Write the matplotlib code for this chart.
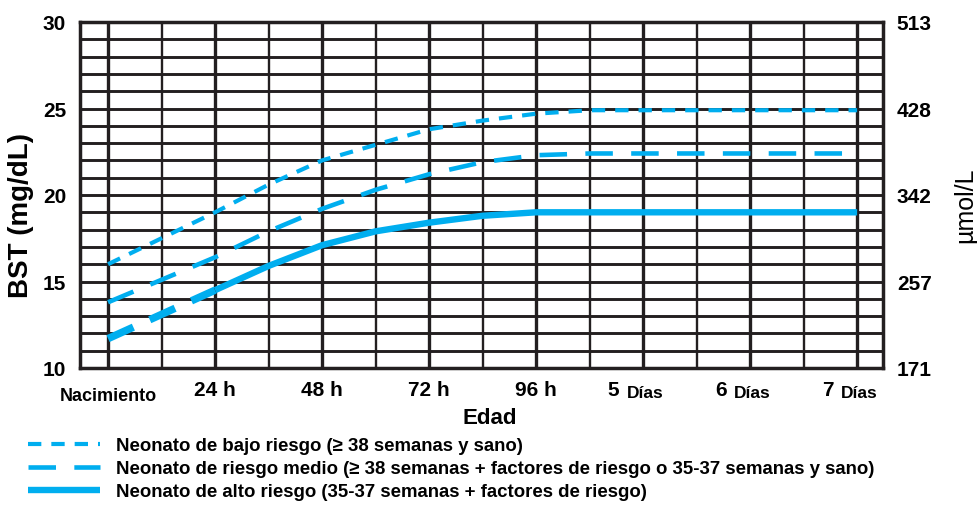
import numpy as np
import matplotlib.pyplot as plt
import matplotlib.transforms as mtransforms

# Datos ---------------------------------------------------------------------
horas = [0, 12, 24, 36, 48, 60, 72, 84, 96, 108, 120, 132, 144, 156, 168]
bajo_riesgo = [16.0, 17.5, 19.0, 20.6, 22.0, 22.9, 23.8, 24.3, 24.7, 24.9, 24.9, 24.9, 24.9, 24.9, 24.9]
riesgo_medio = [13.8, 15.1, 16.4, 17.9, 19.2, 20.3, 21.2, 21.9, 22.3, 22.4, 22.4, 22.4, 22.4, 22.4, 22.4]
alto_riesgo = [11.7, 13.1, 14.5, 15.9, 17.1, 17.9, 18.4, 18.8, 19.0, 19.0, 19.0, 19.0, 19.0, 19.0, 19.0]

hora_ticks = [0, 24, 48, 72, 96]
hora_labels = ['Nacimiento', '24 h', '48 h', '72 h', '96 h']
dia_ticks = [120, 144, 168]
dia_nums = ['5', '6', '7']

bst_ticks = [10, 15, 20, 25, 30]
umol_labels = ['171', '257', '342', '428', '513']

legend_labels = [
    'Neonato de bajo riesgo (≥ 38 semanas y sano)',
    'Neonato de riesgo medio (≥ 38 semanas + factores de riesgo o 35-37 semanas y sano)',
    'Neonato de alto riesgo (35-37 semanas + factores de riesgo)',
]

# Estilo ---------------------------------------------------------------------
plt.rcParams['font.family'] = ['Liberation Sans', 'DejaVu Sans']
azul = '#00AEEF'
negro = '#231F20'

fig = plt.figure(figsize=(9.78, 5.06), dpi=100)
ax = fig.add_axes([80 / 978, 1 - 369 / 506, 803 / 978, 346 / 506])
ax.set_xlim(-6.3, 173.8)
ax.set_ylim(10, 30)

# cuadricula
for y in np.arange(11, 30, 1):
    ax.axhline(y, color=negro, lw=2.1, zorder=1)
for x in np.arange(0, 169, 12):
    ax.axvline(x, color=negro, lw=2.4 if x % 24 == 0 else 1.7, zorder=1)
for s in ax.spines.values():
    s.set_linewidth(2.5)
    s.set_color(negro)

# curvas
l1, = ax.plot(horas, bajo_riesgo, color=azul, lw=3.0, dashes=(3.2, 2.4),
              dash_capstyle='butt', zorder=3)
l2, = ax.plot(horas, riesgo_medio, color=azul, lw=3.3, dashes=(6, 4),
              dash_capstyle='butt', zorder=3)
ax.plot(horas[:3], alto_riesgo[:3], color=azul, lw=5.4, dashes=(3.7, 2.4),
        dash_capstyle='butt', zorder=3)
l3, = ax.plot(horas[2:], alto_riesgo[2:], color=azul, lw=4.6,
              solid_capstyle='butt', zorder=3)

# eje y izquierdo
ax.set_yticks(bst_ticks)
ax.set_yticklabels([str(v) for v in bst_ticks], fontsize=15, fontweight='bold')
ax.tick_params(axis='y', length=0, pad=10)
ax.set_ylabel('BST (mg/dL)', fontsize=20, fontweight='bold')
ax.yaxis.set_label_coords(-0.057, 0.445)

# eje y derecho
ax2 = ax.twinx()
ax2.set_ylim(10, 30)
ax2.set_yticks(bst_ticks)
ax2.set_yticklabels(umol_labels, fontsize=15, fontweight='bold')
ax2.tick_params(axis='y', length=0, pad=10)
for s in ax2.spines.values():
    s.set_visible(False)
fig.text(965 / 978, 1 - 205 / 506, 'µmol/L', fontsize=18, rotation=90,
         ha='center', va='center')

# eje x
ax.set_xticks(hora_ticks)
ax.set_xticklabels(hora_labels, fontsize=15, fontweight='bold')
ax.tick_params(axis='x', length=0, pad=9)
nac = ax.get_xticklabels()[0]
nac.set_fontsize(13)
nac.set_y(-0.02)
nac.set_x(4)

trans = mtransforms.blended_transform_factory(ax.transData, ax.transAxes)
for t, n in zip(dia_ticks, dia_nums):
    ax.annotate(n, (t, 0), xycoords=trans, xytext=(-17, -9), textcoords='offset points',
                ha='right', va='top', fontsize=15, fontweight='bold')
    ax.annotate('Días', (t, 0), xycoords=trans, xytext=(-12, -12), textcoords='offset points',
                ha='left', va='top', fontsize=12.5, fontweight='bold')

ax.set_xlabel('Edad', fontsize=16, fontweight='bold')
ax.xaxis.set_label_coords(0.51, -0.113)

# leyenda
fig.legend([l1, l2, l3], legend_labels, loc='upper left', bbox_to_anchor=(28 / 978, 1 - 438 / 506),
           frameon=False, prop={'size': 13.4, 'weight': 'bold'}, handlelength=3.85,
           handletextpad=0.9, labelspacing=0.33, borderpad=0, borderaxespad=0)

fig.savefig('out.png', dpi=100)
